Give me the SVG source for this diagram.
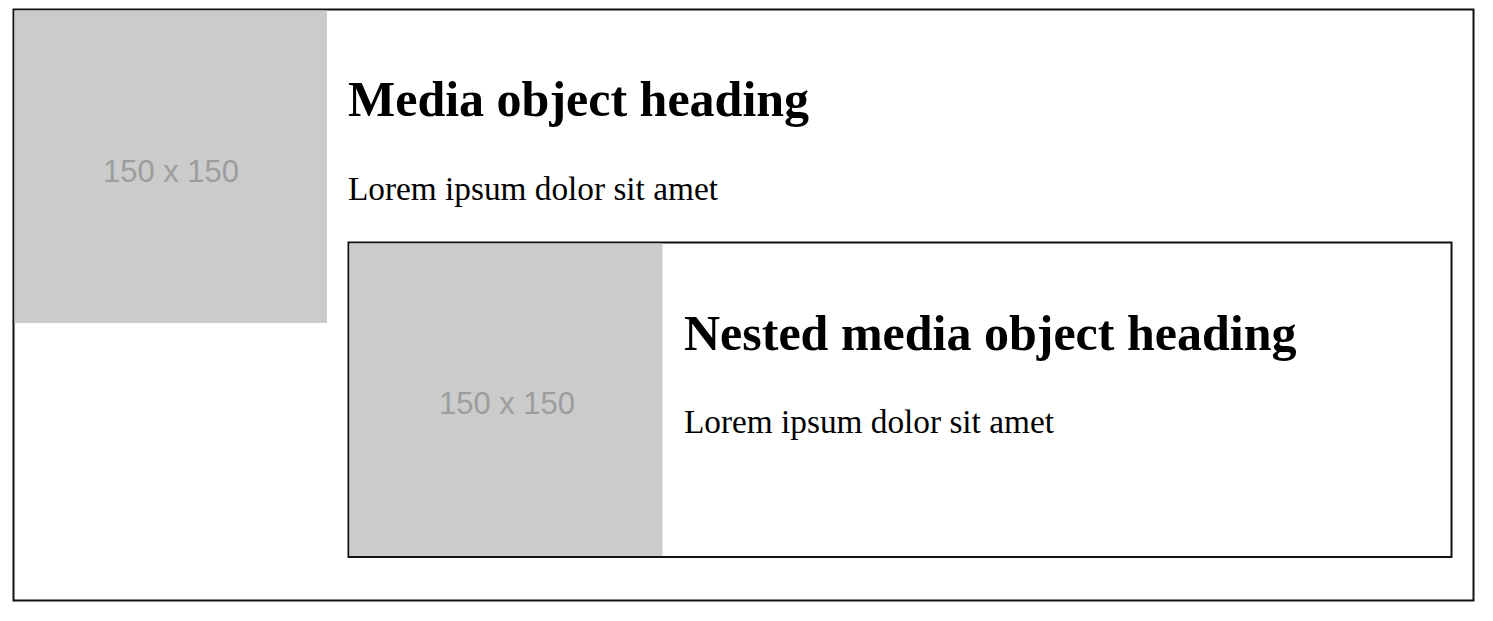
<svg xmlns="http://www.w3.org/2000/svg" width="1493" height="621" viewBox="0 0 1493 621">
<style>
.frame{fill:none;stroke:#111;stroke-width:2}
.ph{fill:#cbcbcb}
.phtext{font-family:"Liberation Sans",Arial,sans-serif;font-size:31px;fill:#9d9d9d;text-anchor:middle}
.h{font-family:"Liberation Serif","Times New Roman",serif;font-size:50px;font-weight:bold;fill:#000}
.p{font-family:"Liberation Serif","Times New Roman",serif;font-size:33.3px;fill:#000}
</style>
<rect x="0" y="0" width="1493" height="621" fill="#fff"/>
<g id="media-outer">
<rect class="frame" x="13.5" y="9.5" width="1460" height="591"/>
<rect class="ph" x="14.5" y="10.5" width="312.5" height="312.5"/>
<text class="phtext" x="171" y="182">150 x 150</text>
<text class="h" x="348" y="116">Media object heading</text>
<text class="p" x="348" y="200">Lorem ipsum dolor sit amet</text>
</g>
<g id="media-nested">
<rect class="frame" x="348.5" y="242.5" width="1103" height="314.5"/>
<rect class="ph" x="349.5" y="243.5" width="313" height="312.5"/>
<text class="phtext" x="507" y="414">150 x 150</text>
<text class="h" x="684" y="350">Nested media object heading</text>
<text class="p" x="684" y="433">Lorem ipsum dolor sit amet</text>
</g>
<g id="connectors"/>
</svg>
